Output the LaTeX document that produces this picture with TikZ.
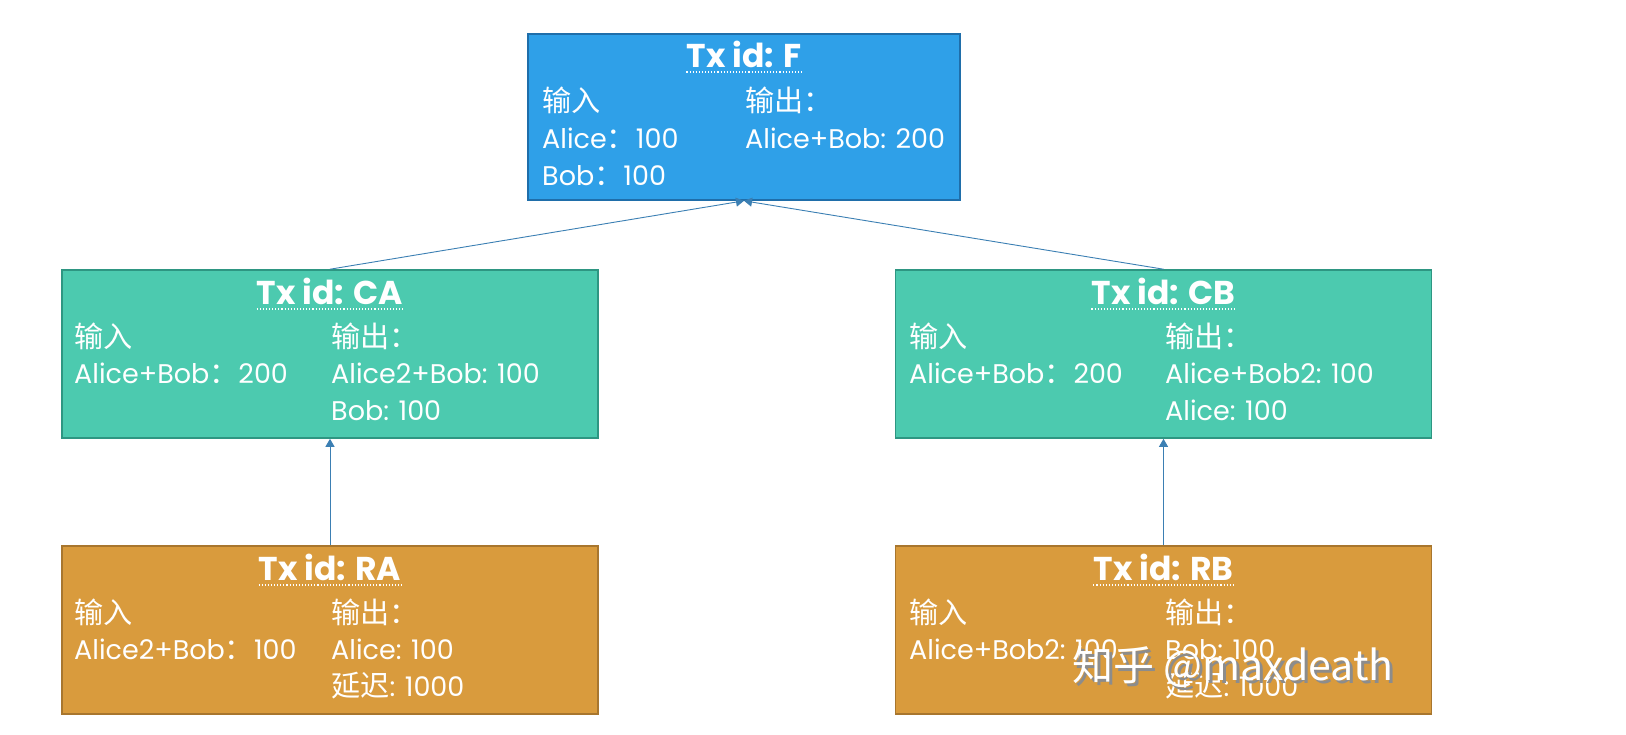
\documentclass[tikz,border=0pt]{standalone}
\usepackage{fontspec}
\setmainfont{Poppins}
\newfontfamily\cjk{Noto Sans CJK SC}[Scale=1.08]
\usetikzlibrary{arrows.meta,shadows}
\definecolor{fblue}{HTML}{2FA0E8}
\definecolor{dblue}{HTML}{1F6EAA}
\definecolor{fteal}{HTML}{4CCAAF}
\definecolor{dteal}{HTML}{2E9682}
\definecolor{forange}{HTML}{D99B3D}
\definecolor{dorange}{HTML}{A8762E}
\definecolor{arrc}{HTML}{3B7FB3}
\tikzset{
  box/.style={draw, line width=1.6pt, rectangle, inner sep=0pt, minimum width=#1},
  bluebox/.style={box=432pt, fill=fblue, draw=dblue, minimum height=166pt},
  tealbox/.style={box=536pt, fill=fteal, draw=dteal, minimum height=168pt},
  orangebox/.style={box=536pt, fill=forange, draw=dorange, minimum height=168pt},
  ttl/.style={anchor=base, inner sep=0pt, text=white, font=\fontsize{33}{36}\selectfont\bfseries},
  txt/.style={anchor=base west, inner sep=0pt, text=white, font=\fontsize{27}{30}\selectfont},
  arr/.style={draw=arrc, line width=0.9pt, -{Triangle[width=9pt,length=8pt]}},
  ul/.style={draw=white, dotted, line width=1.1pt},
  wmark/.style={anchor=base west, inner sep=0pt, font=\fontsize{38}{42}\selectfont}
}
\begin{document}
\begin{tikzpicture}[x=1pt,y=-1pt]
\useasboundingbox (0,0) rectangle (1626,734);
% boxes
\node[bluebox] (F) at (744,117) {};
\node[tealbox] (CA) at (330,354) {};
\node[tealbox] (CB) at (1163.5,354) {};
\node[orangebox] (RA) at (330,630) {};
\node[orangebox] (RB) at (1163.5,630) {};
% arrows
\draw[arr] (CA.north) -- (F.south);
\draw[arr] (CB.north) -- (F.south);
\draw[arr] (RA.north) -- (CA.south);
\draw[arr] (RB.north) -- (CB.south);
% F
\node[ttl] (tF) at (744,67) {Tx id: F};
\draw[ul] ([yshift=-5pt]tF.base west) -- ([yshift=-5pt]tF.base east);
\node[txt] (fi) at (542,111) {\cjk 输入};
\node[txt] (fo) at (745,111) {\cjk 输出：};
\node[txt] (fi1) at (542,148) {Alice{\cjk ：}100};
\node[txt] (fo1) at (745,148) {Alice+Bob: 200};
\node[txt] (fi2) at (542,185) {Bob{\cjk ：}100};
% CA
\node[ttl] (tCA) at (330,304) {Tx id: CA};
\draw[ul] ([yshift=-5pt]tCA.base west) -- ([yshift=-5pt]tCA.base east);
\node[txt] (cai) at (74,347) {\cjk 输入};
\node[txt] (cao) at (331,347) {\cjk 输出：};
\node[txt] (cai1) at (74,383) {Alice+Bob{\cjk ：}200};
\node[txt] (cao1) at (331,383) {Alice2+Bob: 100};
\node[txt] (cao2) at (331,420) {Bob: 100};
% CB
\node[ttl] (tCB) at (1163.5,304) {Tx id: CB};
\draw[ul] ([yshift=-5pt]tCB.base west) -- ([yshift=-5pt]tCB.base east);
\node[txt] (cbi) at (909,347) {\cjk 输入};
\node[txt] (cbo) at (1165,347) {\cjk 输出：};
\node[txt] (cbi1) at (909,383) {Alice+Bob{\cjk ：}200};
\node[txt] (cbo1) at (1165,383) {Alice+Bob2: 100};
\node[txt] (cbo2) at (1165,420) {Alice: 100};
% RA
\node[ttl] (tRA) at (330,580) {Tx id: RA};
\draw[ul] ([yshift=-5pt]tRA.base west) -- ([yshift=-5pt]tRA.base east);
\node[txt] (rai) at (74,623) {\cjk 输入};
\node[txt] (rao) at (331,623) {\cjk 输出：};
\node[txt] (rai1) at (74,659) {Alice2+Bob{\cjk ：}100};
\node[txt] (rao1) at (331,659) {Alice: 100};
\node[txt] (rao2) at (331,696) {{\cjk 延迟}: 1000};
% RB
\node[ttl] (tRB) at (1163.5,580) {Tx id: RB};
\draw[ul] ([yshift=-5pt]tRB.base west) -- ([yshift=-5pt]tRB.base east);
\node[txt] (rbi) at (909,623) {\cjk 输入};
\node[txt] (rbo) at (1165,623) {\cjk 输出：};
\node[txt] (rbi1) at (909,659) {Alice+Bob2: 100};
\node[txt] (rbo1) at (1165,659) {Bob: 100};
\node[txt] (rbo2) at (1165,696) {{\cjk 延迟}: 1000};
% watermark
\node[wmark, text=black!45] (wms) at (1075,683) {\cjk 知乎 @maxdeath};
\node[wmark, text=white] (wm) at (1072,680) {\cjk 知乎 @maxdeath};
\end{tikzpicture}
\end{document}
